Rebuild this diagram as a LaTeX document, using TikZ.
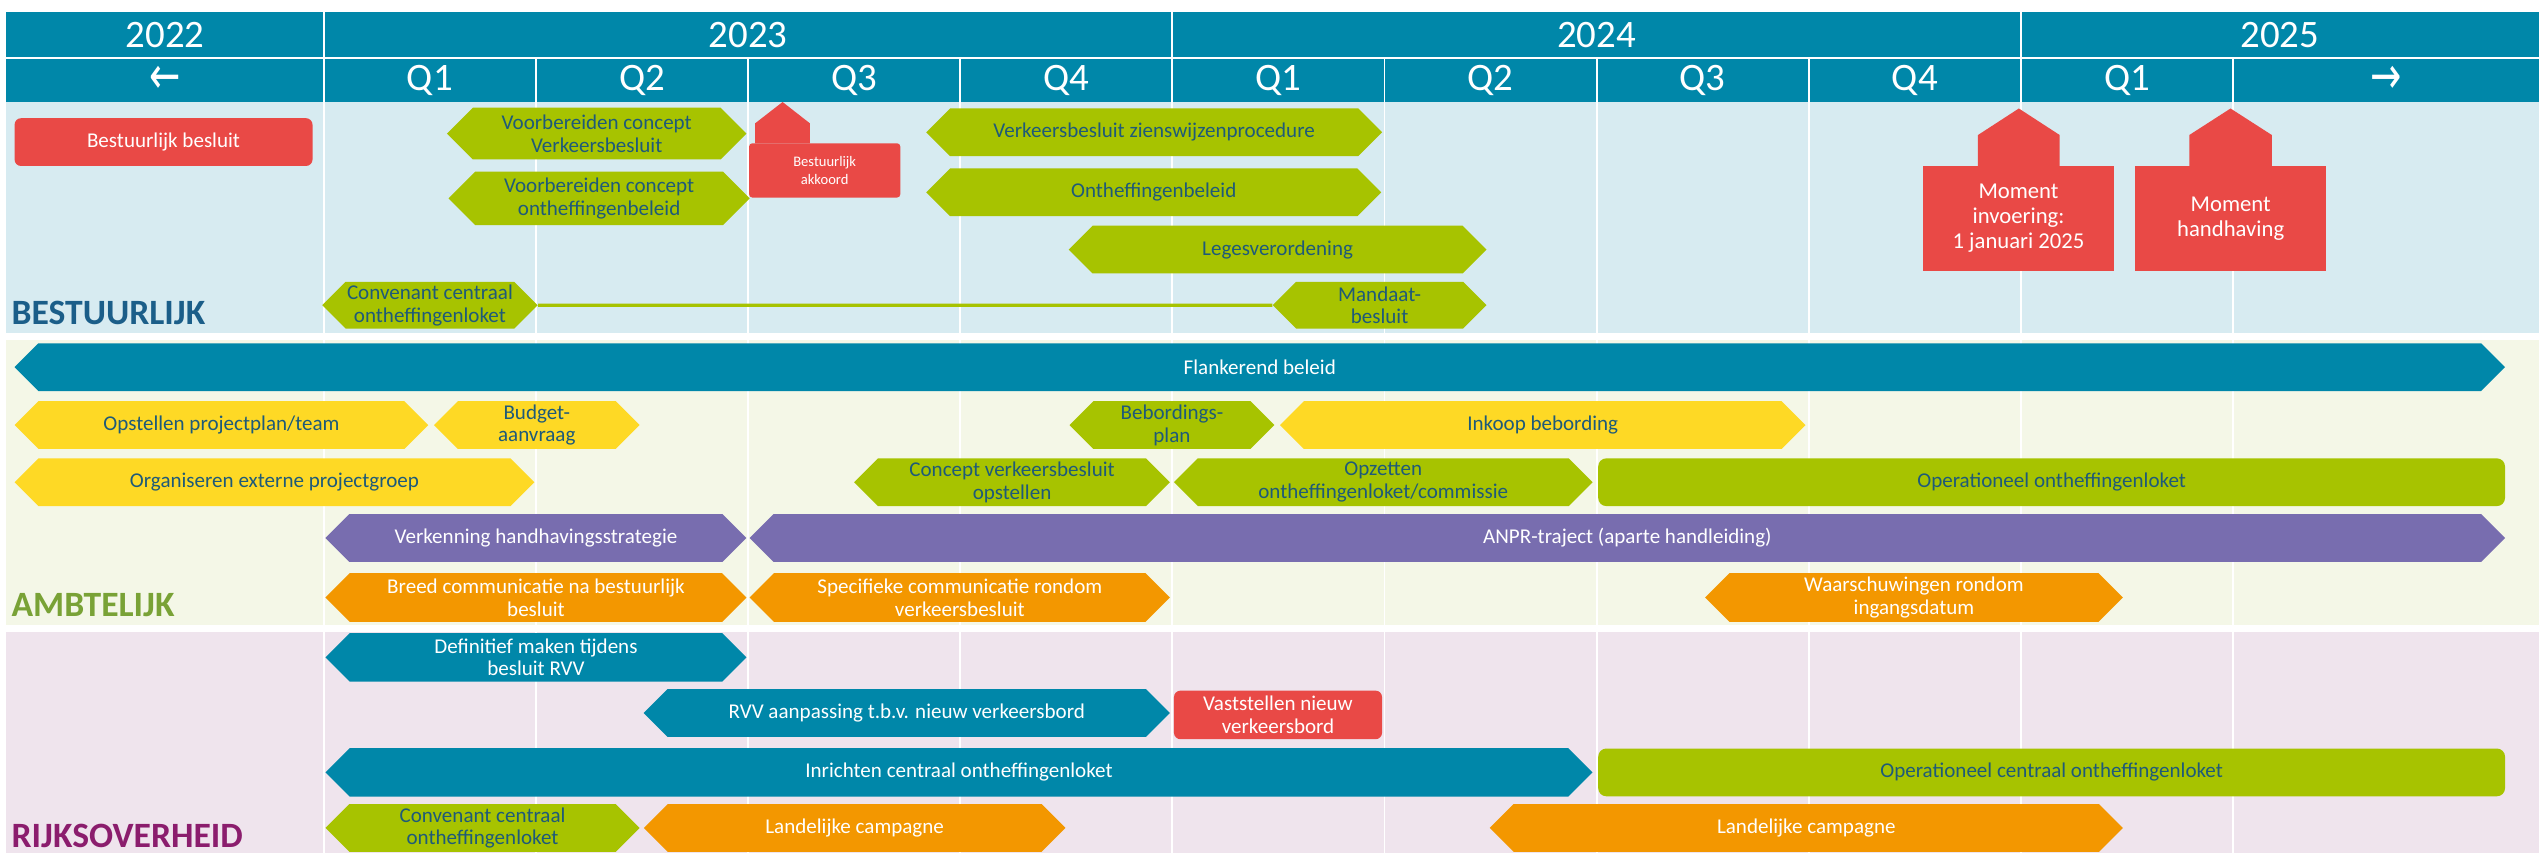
\documentclass[tikz,border=0pt]{standalone}
\usepackage{fontspec}
\usepackage{graphicx}
\setmainfont{Carlito}
\newfontfamily\arrowfont{DejaVu Sans}
\usetikzlibrary{shapes.symbols}

\definecolor{hdrblue}{HTML}{0087A9}
\definecolor{laneone}{HTML}{D7EBF1}
\definecolor{lanetwo}{HTML}{F4F7E7}
\definecolor{lanethree}{HTML}{EFE4ED}
\definecolor{bargreen}{HTML}{A7C300}
\definecolor{baryellow}{HTML}{FED925}
\definecolor{barpurple}{HTML}{786DAF}
\definecolor{barorange}{HTML}{F39700}
\definecolor{barred}{HTML}{E94946}
\definecolor{txtblue}{HTML}{1E5A79}
\definecolor{lblblue}{HTML}{1B5E89}
\definecolor{lblgreen}{HTML}{79A236}
\definecolor{lblpurple}{HTML}{8B1D6D}

\tikzset{
  bar/.style={signal, signal to=east and west, signal pointer angle=90,
    inner sep=0pt, minimum height=29.5pt, align=center, text=txtblue,
    font=\fontsize{13}{14}\selectfont},
  gbar/.style={bar, fill=bargreen},
  ybar/.style={bar, fill=baryellow},
  bbar/.style={bar, fill=hdrblue, text=white},
  pbar/.style={bar, fill=barpurple, text=white},
  obar/.style={bar, fill=barorange, text=white},
  rbox/.style={rectangle, rounded corners=4pt, fill=barred, text=white,
    inner sep=0pt, align=center, font=\fontsize{13}{14}\selectfont},
  gbox/.style={rectangle, rounded corners=5pt, fill=bargreen, text=txtblue,
    inner sep=0pt, minimum height=29.5pt, font=\fontsize{13}{14}\selectfont},
  mbox/.style={rectangle, fill=barred, text=white, inner sep=0pt,
    align=center, minimum width=118pt, minimum height=65pt,
    font=\fontsize{14}{15.5}\selectfont},
  hdr/.style={text=white, inner sep=0pt, font=\fontsize{24}{24}\selectfont},
  hdrarrow/.style={hdr, font=\arrowfont\fontsize{22}{22}\selectfont},
  lanelbl/.style={anchor=base west, inner sep=0pt,
    font=\bfseries\fontsize{22}{22}\selectfont}
}

\begin{document}
\begin{tikzpicture}[x=1pt,y=-1pt]
  \useasboundingbox (0,0) rectangle (1568,527);
  % header and lanes
  \fill[hdrblue] (4,7.2) rectangle (1568,62.8);
  \fill[laneone] (4,62.8) rectangle (1568,205.8);
  \fill[lanetwo] (4,210) rectangle (1568,386);
  \fill[lanethree] (4,390) rectangle (1568,527);
  \draw[white, line width=1.2pt] (4,35.8) -- (1568,35.8);
  \foreach \x in {200,724,1248}
    \draw[white, line width=1.2pt] (\x,7.2) -- (\x,527);
  \foreach \x in {331,462,593,855,986,1117,1379}
    \draw[white, line width=1.2pt] (\x,35.8) -- (\x,527);

  \node[hdr] (y2022) at (102,21.5) {2022};
  \node[hdr] (y2023) at (462,21.5) {2023};
  \node[hdr] (y2024) at (986,21.5) {2024};
  \node[hdr] (y2025) at (1408,21.5) {2025};
  \node[hdrarrow] (back) at (102,49.6) {\scalebox{1.05}[1.45]{←}};
  \node[hdrarrow] (ahead) at (1473.5,49.6) {\scalebox{1.05}[1.45]{→}};
  \foreach \q [count=\i] in {Q1,Q2,Q3,Q4,Q1,Q2,Q3,Q4,Q1}
    \node[hdr] (q\i) at (134.5+131*\i,49.6) {\q};

  % bestuurlijk
  \node[lanelbl, text=lblblue] (bestuurlijk) at (7,200.7) {BESTUURLIJK};
  \node[rbox, minimum width=184pt, minimum height=29.5pt] (besluit) at (101,87.75) {Bestuurlijk besluit};
  \node[gbar, minimum width=185pt, minimum height=32pt] (vbverkeer) at (368.5,82.5) {Voorbereiden concept\\Verkeersbesluit};
  \node[gbar, minimum width=186pt, minimum height=33pt] (vbontheff) at (370,122.5) {Voorbereiden concept\\ontheffingenbeleid};
  \fill[barred] (466.3,88.5) -- (466.3,76.2) -- (483.3,63) -- (500.2,76.2) -- (500.2,88.5) -- cycle;
  \node[rbox, rounded corners=2pt, minimum width=93.4pt, minimum height=33.5pt,
    font=\fontsize{9}{11}\selectfont] (akkoord) at (509.3,105.25) {Bestuurlijk\\akkoord};
  \node[gbar, minimum width=281.5pt] (zienswijze) at (712.75,81.7) {Verkeersbesluit zienswijzenprocedure};
  \node[gbar, minimum width=281pt] (onthbeleid) at (712.5,118.75) {Ontheffingenbeleid};
  \node[gbar, minimum width=258pt] (leges) at (789,154.1) {Legesverordening};
  \node[gbar, minimum width=133pt, minimum height=29pt] (convgem) at (265.5,188.5) {Convenant centraal\\ontheffingenloket};
  \node[gbar, minimum width=132pt, minimum height=29pt] (mandaat) at (852,188.5) {Mandaat-\\besluit};
  \draw[bargreen, line width=2pt] (convgem) -- (mandaat);
  \fill[barred] (1221.5,102.5) -- (1221.5,83.4) -- (1246.75,67) -- (1272,83.4) -- (1272,102.5) -- cycle;
  \node[mbox] (invoering) at (1246.55,134.95) {Moment\\invoering:\\1 januari 2025};
  \fill[barred] (1352,102.5) -- (1352,83.4) -- (1377.5,67) -- (1403,83.4) -- (1403,102.5) -- cycle;
  \node[mbox] (handhaving) at (1377.6,134.95) {Moment\\handhaving};

  % ambtelijk
  \node[lanelbl, text=lblgreen] (ambtelijk) at (7,381) {AMBTELIJK};
  \node[bbar, minimum width=1538pt] (flankerend) at (778,226.75) {Flankerend beleid};
  \node[ybar, minimum width=255.5pt] (projectplan) at (136.75,262.5) {Opstellen projectplan/team};
  \node[ybar, minimum width=127pt] (budget) at (331.5,262.5) {Budget-\\aanvraag};
  \node[gbar, minimum width=126.5pt] (bebplan) at (723.75,262.5) {Bebordings-\\plan};
  \node[ybar, minimum width=324.5pt] (inkoop) at (952.75,262.5) {Inkoop bebording};
  \node[ybar, minimum width=321pt] (projectgroep) at (169.5,297.8) {Organiseren externe projectgroep};
  \node[gbar, minimum width=195pt] (conceptvb) at (625,297.8) {Concept verkeersbesluit\\opstellen};
  \node[gbar, minimum width=258.5pt] (opzetten) at (854.25,297.8) {Opzetten\\ontheffingenloket/commissie};
  \node[gbox, minimum width=560pt] (operloket) at (1267,297.8) {Operationeel ontheffingenloket};
  \node[pbar, minimum width=260pt] (verkenning) at (331,332.25) {Verkenning handhavingsstrategie};
  \node[pbar, minimum width=1084pt] (anpr) at (1005,332.25) {ANPR-traject (aparte handleiding)};
  \node[obar, minimum width=260pt, minimum height=30pt] (breed) at (331,369) {Breed communicatie na bestuurlijk\\besluit};
  \node[obar, minimum width=259.5pt, minimum height=30pt] (specifiek) at (592.75,369) {Specifieke communicatie rondom\\verkeersbesluit};
  \node[obar, minimum width=258pt, minimum height=30pt] (waarschuwing) at (1182,369) {Waarschuwingen rondom\\ingangsdatum};

  % rijksoverheid
  \node[lanelbl, text=lblpurple] (rijk) at (7,523.5) {RIJKSOVERHEID};
  \node[bbar, minimum width=260pt, minimum height=30pt] (definitief) at (331,406) {Definitief maken tijdens\\besluit RVV};
  \node[bbar, minimum width=325pt] (rvv) at (560,440.3) {RVV aanpassing t.b.v. nieuw verkeersbord};
  \node[rbox, minimum width=128.5pt, minimum height=30pt] (verkeersbord) at (789.25,441.5) {Vaststellen nieuw\\verkeersbord};
  \node[bbar, minimum width=782.5pt, minimum height=30pt] (inrichten) at (592.25,477) {Inrichten centraal ontheffingenloket};
  \node[gbox, minimum width=560pt] (centraalloket) at (1267,477) {Operationeel centraal ontheffingenloket};
  \node[gbar, minimum width=194pt] (convrijk) at (298,511.3) {Convenant centraal\\ontheffingenloket};
  \node[obar, minimum width=260.4pt] (campagne) at (527.8,511.3) {Landelijke campagne};
  \node[obar, minimum width=391pt] (campagnetwee) at (1115.5,511.3) {Landelijke campagne};
\end{tikzpicture}
\end{document}
